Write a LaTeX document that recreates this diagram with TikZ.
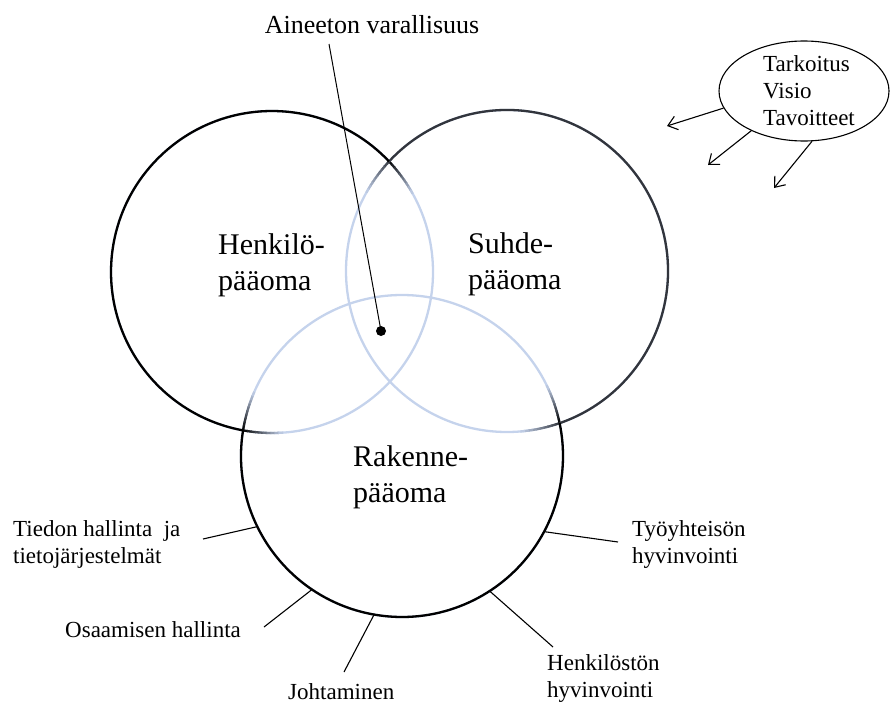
\documentclass[tikz,border=0pt]{standalone}
\usepackage{fontspec}
\setmainfont{Liberation Serif}
\usetikzlibrary{arrows.meta,shapes.geometric,calc}
\definecolor{inner}{RGB}{197,211,236}
\definecolor{suhdeline}{RGB}{50,53,60}
\newcommand{\ringfade}[4]{%
  \foreach \i in {0,...,9}{%
    \pgfmathsetmacro{\aa}{#2+#3*\i*1.4}%
    \pgfmathsetmacro{\bb}{#2+#3*(\i+1)*1.4+#3*0.3}%
    \pgfmathtruncatemacro{\pp}{95-\i*10}%
    \draw[ringline,color=#4!\pp!inner] ([shift={(\aa:161pt)}]#1) arc[start angle=\aa,end angle=\bb,radius=161pt];
  }}
\begin{document}
\begin{tikzpicture}[x=1pt,y=1pt,
  ring/.style={circle,minimum size=322pt,inner sep=0pt},
  ringline/.style={line width=2.3pt},
  big/.style={font=\fontsize{30}{36}\selectfont,align=left,anchor=base west,inner sep=0pt},
  small/.style={font=\fontsize{23}{27}\selectfont,align=left,anchor=base west,inner sep=0pt},
  tick/.style={line width=1.1pt},
  goalarrow/.style={line width=1.1pt,-{Straight Barb[length=9pt,width=14pt,line width=1.1pt]}}]
\useasboundingbox (0,0) rectangle (891,-704);

% circles (invisible nodes used for anchors)
\node[ring] (H) at (272,-272) {};
\node[ring] (S) at (507,-271) {};
\node[ring] (R) at (402,-456) {};

% light inner strokes
\draw[ringline,inner] (H.center) circle[radius=161pt];
\draw[ringline,inner] (S.center) circle[radius=161pt];
\draw[ringline,inner] (R.center) circle[radius=161pt];

% fading transitions
\ringfade{H.center}{259.65}{1}{black}
\ringfade{H.center}{43.4}{-1}{black}
\ringfade{S.center}{136.6}{1}{suhdeline}
\ringfade{S.center}{-70.93}{-1}{suhdeline}
\ringfade{R.center}{371.77}{1}{black}
\ringfade{R.center}{170.85}{-1}{black}

% dark outer strokes
\draw[ringline,black] ([shift={(43.4:161pt)}]H.center) arc[start angle=43.4,end angle=259.65,radius=161pt];
\draw[ringline,suhdeline] ([shift={(-70.93:161pt)}]S.center) arc[start angle=-70.93,end angle=136.6,radius=161pt];
\draw[ringline,black] ([shift={(170.85:161pt)}]R.center) arc[start angle=170.85,end angle=371.77,radius=161pt];

% circle labels
\node[big] (hlab) at (218,-290) {Henkilö-\\pääoma};
\node[big] (slab) at (468,-289) {Suhde-\\pääoma};
\node[big] (rlab) at (353,-502) {Rakenne-\\pääoma};

% intangible assets
\node[font=\fontsize{26}{30}\selectfont,anchor=base,inner sep=0pt] (aine) at (372,-33) {Aineeton varallisuus};
\coordinate (ainefoot) at (329,-44);
\node[circle,fill=black,inner sep=0pt,minimum size=10pt] (dot) at (381,-331) {};
\draw[line width=1pt] (ainefoot) -- (dot.center);

% goals ellipse
\node[ellipse,draw,line width=1.1pt,minimum width=170pt,minimum height=100pt,inner sep=0pt] (ell) at (804,-91) {};
\node[small] (goals) at (763,-125) {Tarkoitus\\Visio\\Tavoitteet};
\coordinate (t1) at (667,-126);
\coordinate (t2) at (708,-165);
\coordinate (t3) at (774,-188);
\draw[goalarrow] (ell.192) -- (t1);
\draw[goalarrow] (ell.217.4) -- (t2);
\draw[goalarrow] (ell.279.3) -- (t3);

% structural capital items
\node[small] (tiedon) at (13,-563) {Tiedon hallinta\ \ ja\\tietojärjestelmät};
\node[small] (osaa) at (65,-637) {Osaamisen hallinta};
\node[small] (joht) at (288,-699) {Johtaminen};
\node[small] (tyo) at (632,-563) {Työyhteisön\\hyvinvointi};
\node[small] (henk) at (547,-697) {Henkilöstön\\hyvinvointi};

\coordinate (e1) at (203,-539);
\coordinate (e2) at (264,-627);
\coordinate (e3) at (344,-672);
\coordinate (e4) at (618,-542);
\coordinate (e5) at (553,-647);
\draw[tick] (R.206.1) -- (e1);
\draw[tick] (R.236.3) -- (e2);
\draw[tick] (R.260) -- (e3);
\draw[tick] (R.332.3) -- (e4);
\draw[tick] (R.303.9) -- (e5);
\end{tikzpicture}
\end{document}
